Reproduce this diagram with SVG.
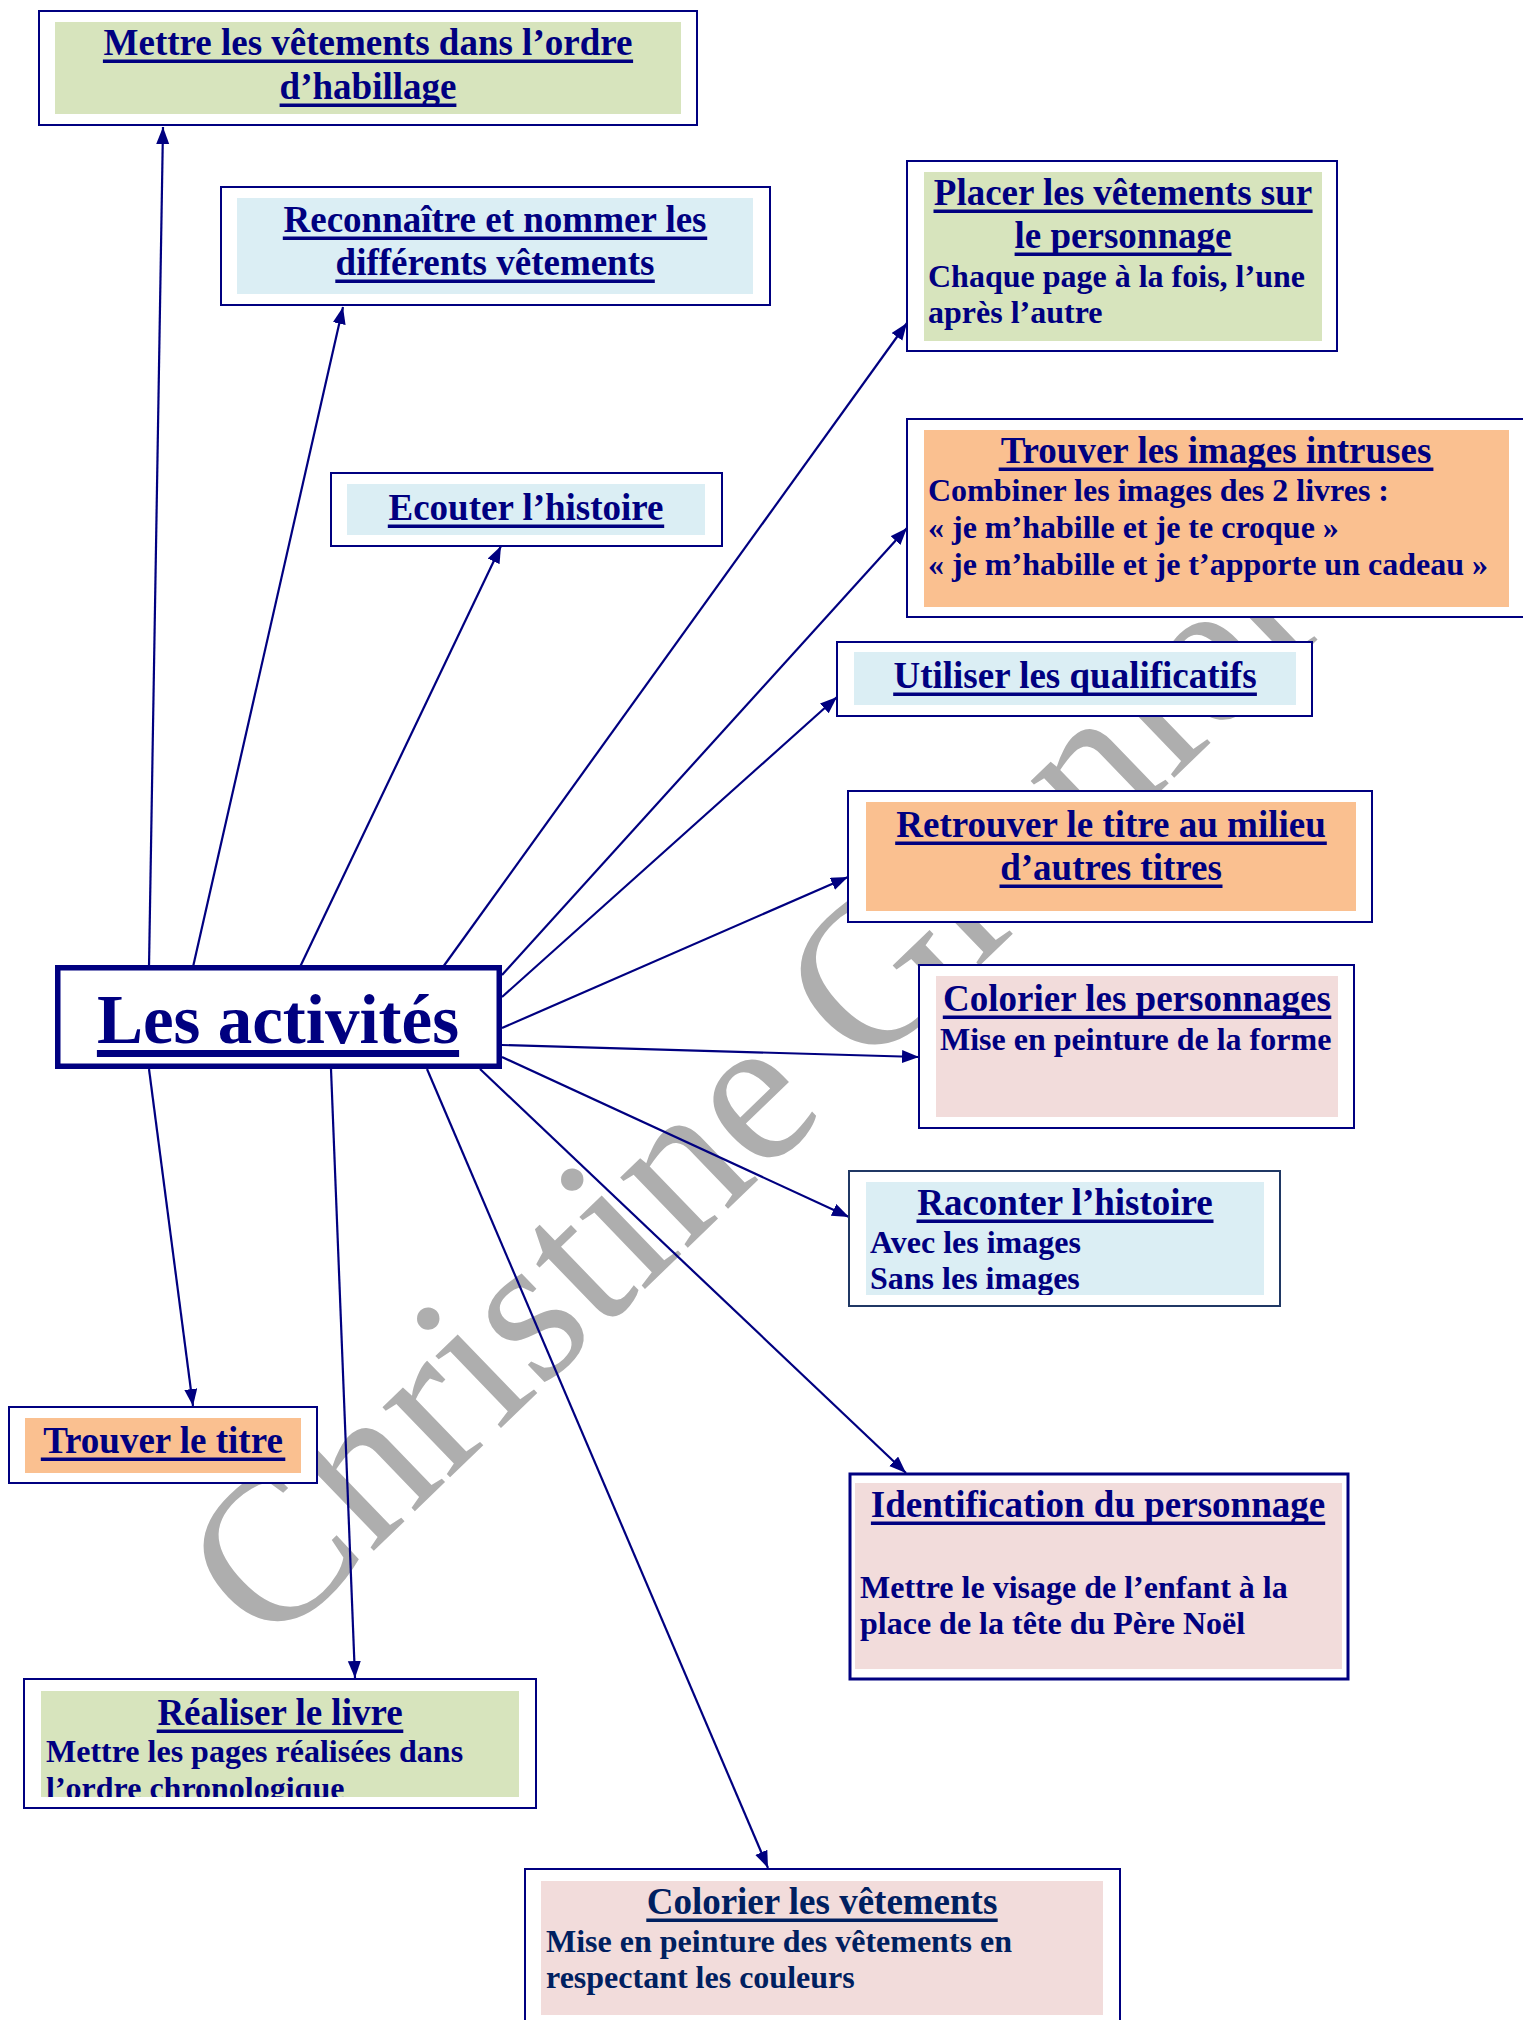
<svg xmlns="http://www.w3.org/2000/svg" width="1523" height="2020" viewBox="0 0 1523 2020">
<style>
.bg{fill:#ffffff}
.box{fill:#ffffff;stroke:#000080;stroke-width:2}
.green{fill:#d7e4bd}
.blue{fill:#dbeef4}
.orange{fill:#fac090}
.pink{fill:#f2dcdb}
.t{font-family:"Liberation Serif","Times New Roman",serif;font-weight:bold;fill:#000080}
.title{font-size:37px;text-anchor:middle}
.body{font-size:32px}
.ul{fill:#000080}
.dk{fill:#002060}
.conn{stroke:#000080;stroke-width:2.2;fill:none;marker-end:url(#arrow)}
.wm{font-family:"Liberation Serif","Times New Roman",serif;font-size:212px;fill:#aeaeae}
</style>
<defs>
<marker id="arrow" markerUnits="userSpaceOnUse" markerWidth="18" markerHeight="14" refX="17" refY="6.5" orient="auto">
<path d="M0,0 L17,6.5 L0,13 z" fill="#000080"/>
</marker>
<clipPath id="clipRac"><rect x="866" y="1182" width="398" height="113"/></clipPath>
<clipPath id="clipRea"><rect x="41" y="1691" width="478" height="106"/></clipPath>
</defs>
<rect class="bg" x="0" y="0" width="1523" height="2020"/>

<g id="watermark">
<text class="wm" x="269" y="1652" transform="rotate(-44 269 1652)">Christine Grenier</text>
</g>

<g id="connectors">
<line class="conn" x1="149" y1="967" x2="163" y2="127"/>
<line class="conn" x1="193" y1="967" x2="343" y2="307"/>
<line class="conn" x1="300" y1="967" x2="501" y2="546"/>
<line class="conn" x1="443" y1="967" x2="907" y2="323"/>
<line class="conn" x1="502" y1="975" x2="907" y2="528"/>
<line class="conn" x1="502" y1="997" x2="837" y2="697"/>
<line class="conn" x1="502" y1="1028" x2="848" y2="877"/>
<line class="conn" x1="502" y1="1045" x2="919" y2="1057"/>
<line class="conn" x1="502" y1="1057" x2="849" y2="1217"/>
<line class="conn" x1="480" y1="1069" x2="906" y2="1473"/>
<line class="conn" x1="427" y1="1069" x2="768" y2="1868"/>
<line class="conn" x1="331" y1="1069" x2="355" y2="1678"/>
<line class="conn" x1="149" y1="1069" x2="193" y2="1406"/>
</g>

<g id="center">
<rect x="57.75" y="967.75" width="441.5" height="98.5" fill="#ffffff" stroke="#000080" stroke-width="5.5"/>
<text class="t" x="278" y="1043" font-size="69" text-anchor="middle">Les activités</text>
<rect class="ul" x="96.9" y="1050" width="362.2" height="7"/>
</g>

<g id="n-mettre">
<rect class="box" x="39" y="11" width="658" height="114"/>
<rect class="green" x="55" y="22" width="626" height="92"/>
<text class="t title" x="368" y="55">Mettre les vêtements dans l’ordre</text>
<text class="t title" x="368" y="99">d’habillage</text>
<rect class="ul" x="102.9" y="59.5" width="530.2" height="3.5"/>
<rect class="ul" x="279.6" y="103.5" width="176.8" height="3.5"/>
</g>

<g id="n-reconnaitre">
<rect class="box" x="221" y="187" width="549" height="118"/>
<rect class="blue" x="237" y="198" width="516" height="96"/>
<text class="t title" x="495" y="232">Reconnaître et nommer les</text>
<text class="t title" x="495" y="275">différents vêtements</text>
<rect class="ul" x="282.8" y="236.5" width="424.4" height="3.5"/>
<rect class="ul" x="335.3" y="279.5" width="319.5" height="3.5"/>
</g>

<g id="n-ecouter">
<rect class="box" x="331" y="473" width="391" height="73"/>
<rect class="blue" x="347" y="484" width="358" height="51"/>
<text class="t title" x="526" y="520">Ecouter l’histoire</text>
<rect class="ul" x="387.8" y="524.5" width="276.4" height="3.5"/>
</g>

<g id="n-placer">
<rect class="box" x="907" y="161" width="430" height="190"/>
<rect class="green" x="924" y="172" width="398" height="169"/>
<text class="t title" x="1123" y="205">Placer les vêtements sur</text>
<text class="t title" x="1123" y="248">le personnage</text>
<rect class="ul" x="933.5" y="209.5" width="379.1" height="3.5"/>
<rect class="ul" x="1014.6" y="252.5" width="216.9" height="3.5"/>
<text class="t body" x="928" y="287">Chaque page à la fois, l’une</text>
<text class="t body" x="928" y="323">après l’autre</text>
</g>

<g id="n-intruses">
<rect class="box" x="907" y="419" width="619" height="198"/>
<rect class="orange" x="924" y="430" width="585" height="177"/>
<text class="t title" x="1216" y="463">Trouver les images intruses</text>
<rect class="ul" x="998.7" y="467.5" width="434.7" height="3.5"/>
<text class="t body" x="928" y="501">Combiner les images des 2 livres :</text>
<text class="t body" x="928" y="538">« je m’habille et je te croque »</text>
<text class="t body" x="928" y="575">« je m’habille et je t’apporte un cadeau »</text>
</g>

<g id="n-qualificatifs">
<rect class="box" x="837" y="642" width="475" height="74"/>
<rect class="blue" x="854" y="652" width="442" height="53"/>
<text class="t title" x="1075" y="688">Utiliser les qualificatifs</text>
<rect class="ul" x="893.2" y="692.5" width="363.7" height="3.5"/>
</g>

<g id="n-retrouver">
<rect class="box" x="848" y="791" width="524" height="131"/>
<rect class="orange" x="866" y="802" width="490" height="109"/>
<text class="t title" x="1111" y="837">Retrouver le titre au milieu</text>
<text class="t title" x="1111" y="880">d’autres titres</text>
<rect class="ul" x="895.2" y="841.5" width="431.6" height="3.5"/>
<rect class="ul" x="999.5" y="884.5" width="223" height="3.5"/>
</g>

<g id="n-colorier-personnages">
<rect class="box" x="919" y="965" width="435" height="163"/>
<rect class="pink" x="936" y="976" width="402" height="141"/>
<text class="t title" x="1137" y="1011">Colorier les personnages</text>
<rect class="ul" x="942.8" y="1015.5" width="388.5" height="3.5"/>
<text class="t body" x="940" y="1050">Mise en peinture de la forme</text>
</g>

<g id="n-raconter">
<rect class="box" x="849" y="1171" width="431" height="135" style="stroke:#203864"/>
<rect class="blue" x="866" y="1182" width="398" height="113"/>
<text class="t title" x="1065" y="1215">Raconter l’histoire</text>
<rect class="ul" x="916.5" y="1219.5" width="297" height="3.5"/>
<g clip-path="url(#clipRac)">
<text class="t body" x="870" y="1253">Avec les images</text>
<text class="t body" x="870" y="1289">Sans les images</text>
</g>
</g>

<g id="n-identification">
<rect class="box" x="850" y="1474" width="498" height="205" style="stroke-width:3"/>
<rect class="pink" x="855" y="1483" width="487" height="186"/>
<text class="t title" x="1098" y="1517">Identification du personnage</text>
<rect class="ul" x="870.9" y="1521.5" width="454.3" height="3.5"/>
<text class="t body" x="860" y="1598">Mettre le visage de l’enfant à la</text>
<text class="t body" x="860" y="1634">place de la tête du Père Noël</text>
</g>

<g id="n-trouver-titre">
<rect class="box" x="9" y="1407" width="308" height="76"/>
<rect class="orange" x="25" y="1418" width="276" height="55"/>
<text class="t title" x="163" y="1453">Trouver le titre</text>
<rect class="ul" x="40.8" y="1457.5" width="244.5" height="3.5"/>
</g>

<g id="n-realiser">
<rect class="box" x="24" y="1679" width="512" height="129"/>
<rect class="green" x="41" y="1691" width="478" height="106"/>
<text class="t title" x="280" y="1725">Réaliser le livre</text>
<rect class="ul" x="156.7" y="1729.5" width="246.6" height="3.5"/>
<g clip-path="url(#clipRea)">
<text class="t body" x="46" y="1762">Mettre les pages réalisées dans</text>
<text class="t body" x="46" y="1799">l’ordre chronologique</text>
</g>
</g>

<g id="n-colorier-vetements">
<rect class="box" x="525" y="1869" width="595" height="170"/>
<rect class="pink" x="541" y="1881" width="562" height="134"/>
<text class="t title dk" x="822" y="1914">Colorier les vêtements</text>
<rect class="dk" x="646.3" y="1918.5" width="351.4" height="3.5"/>
<text class="t body dk" x="546" y="1952">Mise en peinture des vêtements en</text>
<text class="t body dk" x="546" y="1988">respectant les couleurs</text>
</g>
</svg>
